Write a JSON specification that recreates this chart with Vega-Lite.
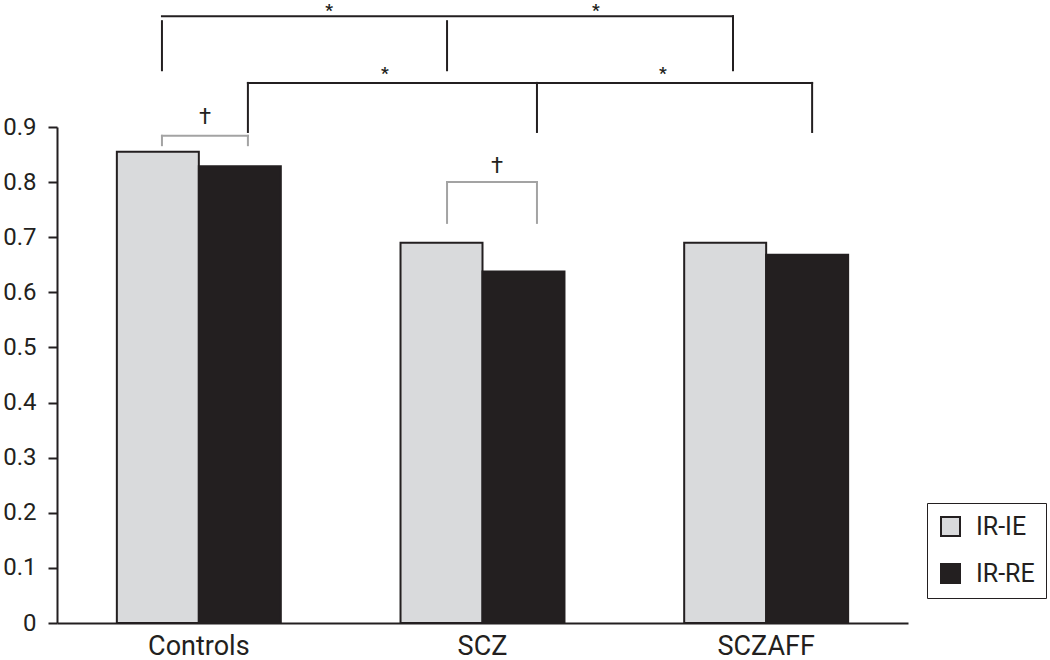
{
  "$schema": "https://vega.github.io/schema/vega-lite/v6.json",
  "width": 851,
  "height": 496,
  "autosize": "none",
  "padding": {"left": 57, "top": 127, "right": 142, "bottom": 37},
  "background": "white",
  "config": {"view": {"stroke": null}, "font": "Roboto"},
  "datasets": {
    "bars": [
      {"group": "Controls", "series": "IR-IE", "value": 0.855},
      {"group": "Controls", "series": "IR-RE", "value": 0.829},
      {"group": "SCZ", "series": "IR-IE", "value": 0.69},
      {"group": "SCZ", "series": "IR-RE", "value": 0.638},
      {"group": "SCZAFF", "series": "IR-IE", "value": 0.69},
      {"group": "SCZAFF", "series": "IR-RE", "value": 0.668}
    ],
    "brackets": [
      {"kind": "sig", "pos": 0.370, "pos2": 2.383, "value": 1.101, "value2": 1.101},
      {"kind": "sig", "pos": 0.370, "pos2": 0.370, "value": 1.092, "value2": 1.003},
      {"kind": "sig", "pos": 1.375, "pos2": 1.375, "value": 1.092, "value2": 1.003},
      {"kind": "sig", "pos": 2.383, "pos2": 2.383, "value": 1.101, "value2": 1.003},
      {"kind": "sig", "pos": 0.673, "pos2": 2.662, "value": 0.980, "value2": 0.980},
      {"kind": "sig", "pos": 0.673, "pos2": 0.673, "value": 0.980, "value2": 0.891},
      {"kind": "sig", "pos": 1.692, "pos2": 1.692, "value": 0.980, "value2": 0.891},
      {"kind": "sig", "pos": 2.662, "pos2": 2.662, "value": 0.980, "value2": 0.891},
      {"kind": "trend", "pos": 0.370, "pos2": 0.673, "value": 0.884, "value2": 0.884},
      {"kind": "trend", "pos": 0.370, "pos2": 0.370, "value": 0.884, "value2": 0.867},
      {"kind": "trend", "pos": 0.673, "pos2": 0.673, "value": 0.884, "value2": 0.867},
      {"kind": "trend", "pos": 1.375, "pos2": 1.692, "value": 0.800, "value2": 0.800},
      {"kind": "trend", "pos": 1.375, "pos2": 1.375, "value": 0.800, "value2": 0.726},
      {"kind": "trend", "pos": 1.692, "pos2": 1.692, "value": 0.800, "value2": 0.726}
    ],
    "marks": [
      {"label": "*", "pos": 0.959, "value": 1.1015},
      {"label": "*", "pos": 1.900, "value": 1.1015},
      {"label": "*", "pos": 1.156, "value": 0.987},
      {"label": "*", "pos": 2.136, "value": 0.987},
      {"label": "†", "pos": 0.522, "value": 0.9055},
      {"label": "†", "pos": 1.551, "value": 0.8166}
    ]
  },
  "layer": [
    {
      "data": {"name": "bars"},
      "mark": {"type": "bar", "stroke": "#231f20", "strokeWidth": 2},
      "encoding": {
        "x": {
          "field": "group", "type": "nominal", "sort": ["Controls", "SCZ", "SCZAFF"],
          "scale": {"paddingInner": 0.422, "paddingOuter": 0.211},
          "axis": {"title": null, "labelAngle": 0, "ticks": false, "domainColor": "#231f20", "domainWidth": 2,
                   "labelFontSize": 27, "labelColor": "#231f20", "labelPadding": 10, "labelFont": "Roboto"}
        },
        "xOffset": {"field": "series", "type": "nominal", "sort": ["IR-IE", "IR-RE"], "scale": {"paddingInner": 0, "paddingOuter": 0}},
        "y": {
          "field": "value", "type": "quantitative",
          "scale": {"domain": [0, 0.9], "nice": false, "zero": true},
          "axis": {"title": null, "values": [0, 0.1, 0.2, 0.3, 0.4, 0.5, 0.6, 0.7, 0.8, 0.9], "format": ".1~f", "grid": false,
                   "labelFontSize": 24, "labelColor": "#231f20", "labelFont": "Roboto", "tickColor": "#231f20", "tickSize": 9, "tickWidth": 2,
                   "domainColor": "#231f20", "domainWidth": 2, "labelPadding": 12}
        },
        "fill": {
          "field": "series", "type": "nominal",
          "scale": {"domain": ["IR-IE", "IR-RE"], "range": ["#d9dadc", "#231f20"]},
          "legend": {"title": null, "orient": "none", "legendX": 870, "legendY": 376, "symbolType": "square", "symbolSize": 361,
                     "symbolStrokeColor": "#231f20", "symbolStrokeWidth": 2, "labelFontSize": 25, "labelColor": "#231f20", "labelFont": "Roboto",
                     "strokeColor": "#231f20", "padding": 11, "rowPadding": 20, "labelOffset": 13, "cornerRadius": 0}
        }
      }
    },
    {
      "data": {"name": "brackets"},
      "transform": [{"filter": "datum.kind == 'sig'"}],
      "mark": {"type": "rule", "color": "#231f20", "strokeWidth": 2, "strokeCap": "square"},
      "encoding": {
        "x": {"field": "pos", "type": "quantitative", "scale": {"domain": [0, 3], "nice": false, "zero": false}, "axis": null},
        "x2": {"field": "pos2"},
        "y": {"field": "value", "type": "quantitative", "scale": {"domain": [0, 0.9], "nice": false}, "title": null},
        "y2": {"field": "value2"}
      }
    },
    {
      "data": {"name": "brackets"},
      "transform": [{"filter": "datum.kind == 'trend'"}],
      "mark": {"type": "rule", "color": "#a3a3a3", "strokeWidth": 2, "strokeCap": "square"},
      "encoding": {
        "x": {"field": "pos", "type": "quantitative", "scale": {"domain": [0, 3], "nice": false, "zero": false}, "axis": null},
        "x2": {"field": "pos2"},
        "y": {"field": "value", "type": "quantitative", "scale": {"domain": [0, 0.9], "nice": false}, "title": null},
        "y2": {"field": "value2"}
      }
    },
    {
      "data": {"name": "marks"},
      "transform": [{"filter": "datum.label == '*'"}],
      "mark": {"type": "text", "color": "#231f20", "fontSize": 17, "fontWeight": "bold", "align": "center", "baseline": "alphabetic", "font": "Roboto"},
      "encoding": {
        "x": {"field": "pos", "type": "quantitative", "scale": {"domain": [0, 3], "nice": false, "zero": false}, "axis": null},
        "y": {"field": "value", "type": "quantitative", "scale": {"domain": [0, 0.9], "nice": false}, "title": null},
        "text": {"field": "label"}
      }
    },
    {
      "data": {"name": "marks"},
      "transform": [{"filter": "datum.label != '*'"}],
      "mark": {"type": "text", "color": "#231f20", "fontSize": 22, "align": "center", "baseline": "alphabetic", "font": "Roboto"},
      "encoding": {
        "x": {"field": "pos", "type": "quantitative", "scale": {"domain": [0, 3], "nice": false, "zero": false}, "axis": null},
        "y": {"field": "value", "type": "quantitative", "scale": {"domain": [0, 0.9], "nice": false}, "title": null},
        "text": {"field": "label"}
      }
    }
  ],
  "resolve": {"scale": {"x": "independent"}}
}
